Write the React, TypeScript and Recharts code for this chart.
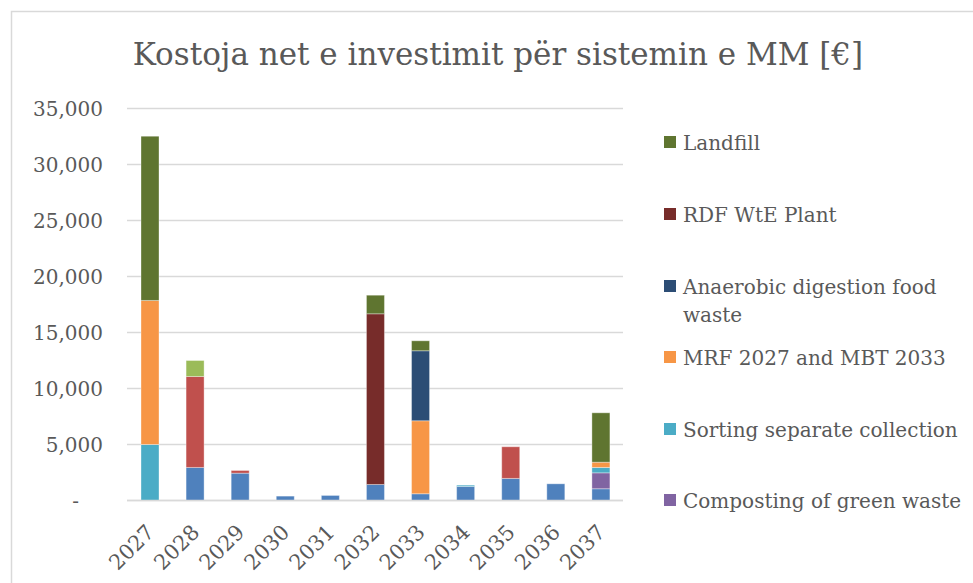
import React from 'react';
import { BarChart, Bar, XAxis, YAxis, CartesianGrid } from 'recharts';

const years = ['2027', '2028', '2029', '2030', '2031', '2032', '2033', '2034', '2035', '2036', '2037'];

// stacked bottom → top, values in €
const collection = [0, 2950, 2440, 390, 450, 1430, 600, 1250, 1970, 1490, 1050];
const transfer   = [0, 8120, 240, 0, 0, 0, 0, 0, 2830, 0, 0];
const containers = [0, 1430, 0, 0, 0, 0, 0, 0, 0, 0, 0];
const composting = [0, 0, 0, 0, 0, 0, 0, 0, 0, 0, 1420];
const sorting    = [5000, 0, 0, 0, 0, 0, 0, 120, 0, 0, 480];
const mrfMbt     = [12860, 0, 0, 0, 0, 0, 6520, 0, 0, 0, 470];
const anaerobic  = [0, 0, 0, 0, 0, 0, 6250, 0, 0, 0, 0];
const rdfWte     = [0, 0, 0, 0, 0, 15240, 0, 0, 0, 0, 0];
const landfill   = [14670, 0, 0, 0, 0, 1660, 890, 0, 0, 0, 4410];

const yTicks = [0, 5000, 10000, 15000, 20000, 25000, 30000, 35000];

const series = [
  { key: 'collection', values: collection, color: '#4F81BD' },
  { key: 'transfer',   values: transfer,   color: '#C0504D' },
  { key: 'containers', values: containers, color: '#9BBB59' },
  { key: 'composting', values: composting, color: '#8064A2' },
  { key: 'sorting',    values: sorting,    color: '#4BACC6' },
  { key: 'mrfMbt',     values: mrfMbt,     color: '#F79646' },
  { key: 'anaerobic',  values: anaerobic,  color: '#2C4D75' },
  { key: 'rdfWte',     values: rdfWte,     color: '#772C2A' },
  { key: 'landfill',   values: landfill,   color: '#5F7530' },
];

const legendItems = [
  { lines: ['Landfill'], color: '#5F7530', y: 150 },
  { lines: ['RDF WtE Plant'], color: '#772C2A', y: 222 },
  { lines: ['Anaerobic digestion food', 'waste'], color: '#2C4D75', y: 294 },
  { lines: ['MRF 2027 and MBT 2033'], color: '#F79646', y: 365 },
  { lines: ['Sorting separate collection'], color: '#4BACC6', y: 437 },
  { lines: ['Composting of green waste'], color: '#8064A2', y: 508 },
];

const data = years.map((year, i) => {
  const row: Record<string, string | number> = { year };
  series.forEach(s => { row[s.key] = s.values[i]; });
  return row;
});

const FONT = '"DejaVu Serif", serif';
const TEXT = '#595959';

const YTick = ({ x, y, payload }: any) => (
  <text x={payload.value === 0 ? 79 : 103} y={y} dy="0.35em" textAnchor="end"
    fontFamily={FONT} fontSize={20} fill={TEXT}>
    {payload.value === 0 ? '-' : payload.value.toLocaleString('en-US')}
  </text>
);

const XTick = ({ x, y, payload }: any) => {
  const ax = x + 6;
  const ay = y + 25;
  return (
    <text x={ax} y={ay} textAnchor="end" transform={`rotate(-45 ${ax} ${ay})`}
      fontFamily={FONT} fontSize={21} fill={TEXT}>
      {payload.value}
    </text>
  );
};

export default function App() {
  return (
    <div style={{ position: 'relative', width: 973, height: 583, overflow: 'hidden', background: '#fff' }}>
      <style>{'body{margin:0;overflow:hidden}'}</style>
      <BarChart width={973} height={583} data={data}
        margin={{ top: 108.5, right: 350, bottom: 0, left: 0 }} barSize={18}>
        <CartesianGrid horizontal vertical={false} stroke="#D9D9D9" strokeWidth={1.5} />
        <XAxis dataKey="year" height={82.5} tick={<XTick />} tickLine={false}
          axisLine={{ stroke: '#D9D9D9', strokeWidth: 1.5 }} interval={0} />
        <YAxis width={127} domain={[0, 35000]} ticks={yTicks} tick={<YTick />}
          axisLine={false} tickLine={false} />
        {series.map(s => (
          <Bar key={s.key} dataKey={s.key} stackId="a" fill={s.color}
            stroke="#ffffff" strokeOpacity={0.35} strokeWidth={1} isAnimationActive={false} />
        ))}
      </BarChart>
      <svg width={973} height={583} style={{ position: 'absolute', left: 0, top: 0, pointerEvents: 'none' }}>
        <rect x={11.5} y={11.5} width={1200} height={1200} fill="none" stroke="#D9D9D9" strokeWidth={1.5} />
        <text x={498} y={65} textAnchor="middle" fontFamily={FONT} fontSize={31} fill={TEXT}>
          Kostoja net e investimit për sistemin e MM [€]
        </text>
        {legendItems.map(item => (
          <g key={item.lines[0]}>
            <rect x={664} y={item.y - 14} width={12} height={12} fill={item.color} />
            {item.lines.map((line, j) => (
              <text key={line} x={683} y={item.y + j * 27.5} fontFamily={FONT} fontSize={20} fill={TEXT}>
                {line}
              </text>
            ))}
          </g>
        ))}
      </svg>
    </div>
  );
}
